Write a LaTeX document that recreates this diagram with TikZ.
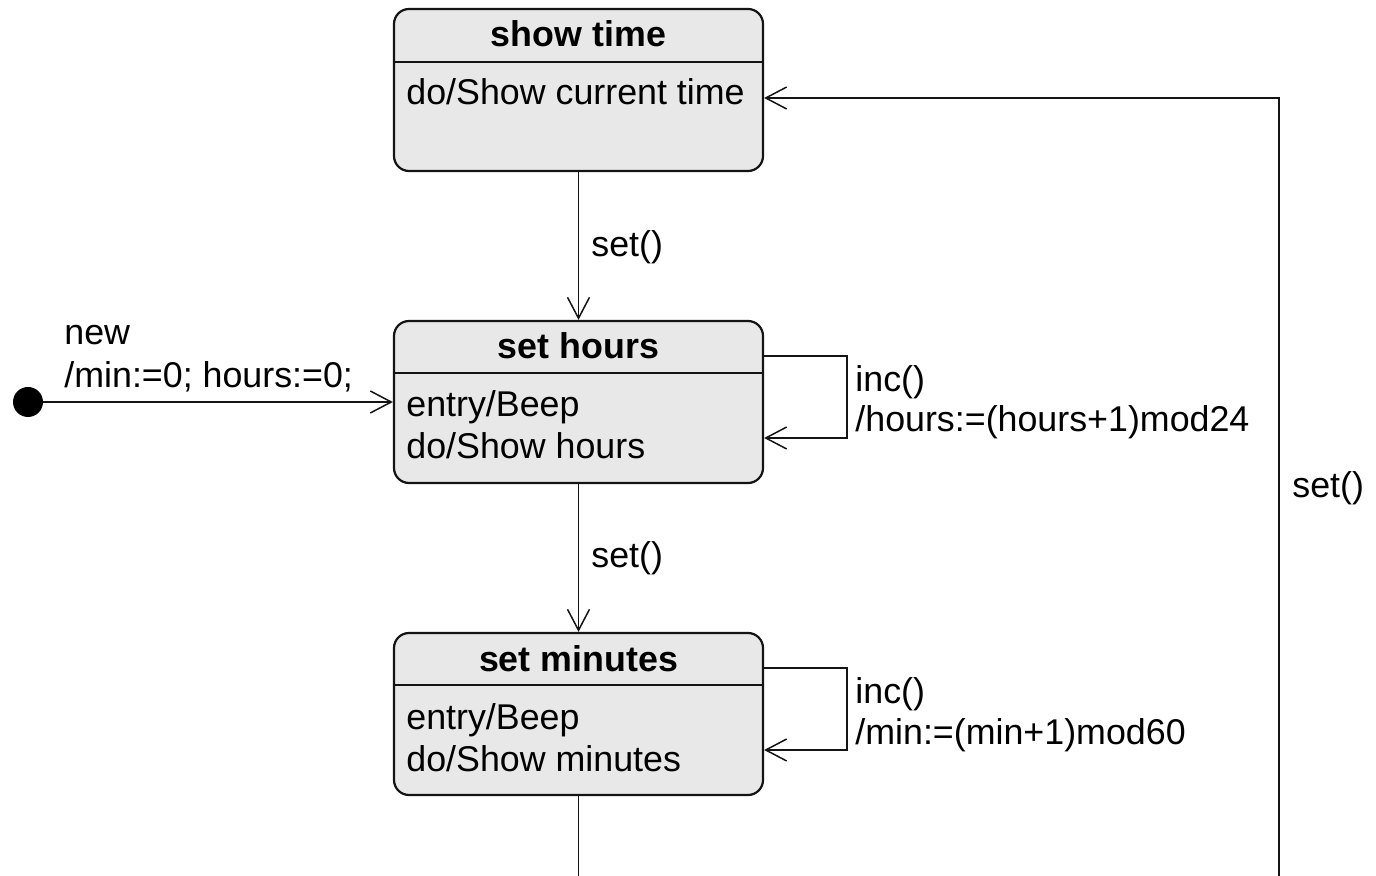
\documentclass[tikz,border=0pt]{standalone}
\usepackage{fontspec}
\setmainfont{Liberation Sans}
\usetikzlibrary{arrows.meta,calc}
\definecolor{boxfill}{RGB}{232,232,232}
\definecolor{ink}{RGB}{20,20,20}
\begin{document}
\begin{tikzpicture}[x=0.5pt,y=-0.5pt,
  every node/.style={font=\fontsize{17.9}{21}\selectfont, text=black},
  statebox/.style={draw=ink, line width=1.1pt, fill=boxfill, rounded corners=7.5pt,
    minimum width=184.5pt, minimum height=81pt, inner sep=0pt},
  title/.style={anchor=base, inner sep=0pt, font=\fontsize{17.9}{21}\selectfont\bfseries},
  txt/.style={anchor=base west, inner sep=0pt},
  conn/.style={draw=ink, line width=0.75pt, -{Straight Barb[length=10.5pt,width=11pt,line width=0.75pt]}},
  sep/.style={draw=ink, line width=1pt}]
\useasboundingbox (0,0) rectangle (1376,876);
\clip (0,0) rectangle (1376,876);

% states
\node[statebox] (st) at (578.5,90) {};
\node[statebox] (sh) at (578.5,402) {};
\node[statebox] (sm) at (578.5,714) {};

\draw[sep] (st.west |- 0,62) -- (st.east |- 0,62);
\draw[sep] (sh.west |- 0,373) -- (sh.east |- 0,373);
\draw[sep] (sm.west |- 0,685) -- (sm.east |- 0,685);

\node[title] (stT) at (578.5,47) {show time};
\node[txt] (stA) at (406,105) {do/Show current time};

\node[title] (shT) at (578.5,359) {set hours};
\node[txt] (shA) at (406,417) {entry/Beep};
\node[txt] (shB) at (406,459) {do/Show hours};

\node[title] (smT) at (578.5,671) {set minutes};
\node[txt] (smA) at (406,729) {entry/Beep};
\node[txt] (smB) at (406,771) {do/Show minutes};

% initial pseudo-state
\node[circle, fill=black, inner sep=0pt, minimum size=15pt] (init) at (28,402) {};
\draw[conn] (init) -- (sh.west);
\node[txt] (newL) at (64,345) {new};
\node[txt] (newA) at (64,388) {/min:=0; hours:=0;};

% set() transitions
\draw[conn] (st.south) -- (sh.north);
\node[txt] (setA) at (591,257) {set()};
\draw[conn] (sh.south) -- (sm.north);
\node[txt] (setB) at (591,568) {set()};

% inc() self loops
\coordinate (hl) at (847,356);
\coordinate (hr) at (847,438);
\draw[conn] (sh.east |- hl) -- (hl) -- (hr) -- (sh.east |- hr);
\node[txt] (incH) at (855,392) {inc()};
\node[txt] (incHa) at (855,432) {/hours:=(hours+1)mod24};

\coordinate (ml) at (847,668);
\coordinate (mr) at (847,750);
\draw[conn] (sm.east |- ml) -- (ml) -- (mr) -- (sm.east |- mr);
\node[txt] (incM) at (855,704) {inc()};
\node[txt] (incMa) at (855,744) {/min:=(min+1)mod60};

% return to show time
\coordinate (rb) at (1279,940);
\coordinate (rt) at (1279,98);
\draw[conn] (sm.south) |- (rb) -- (rt) -- (st.east |- rt);
\node[txt] (setC) at (1292,498) {set()};
\end{tikzpicture}
\end{document}
